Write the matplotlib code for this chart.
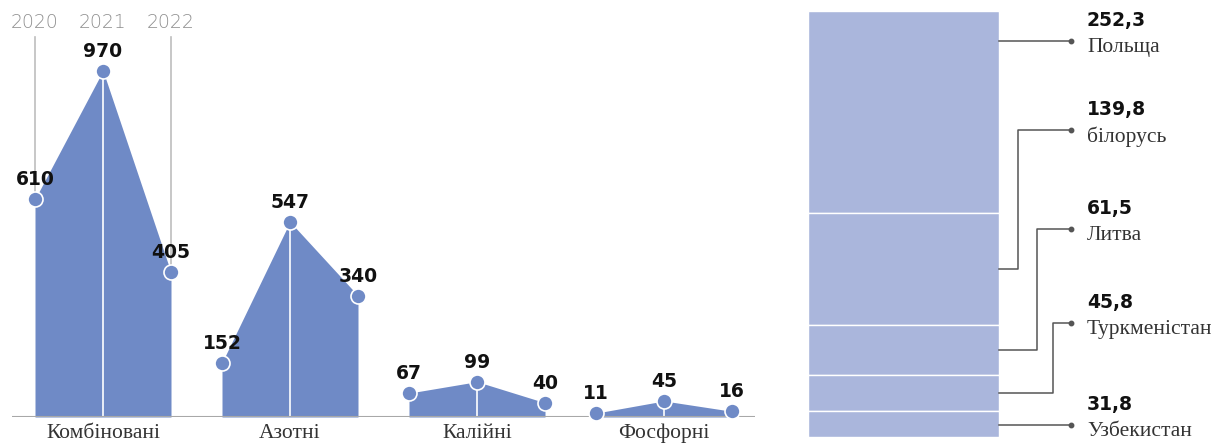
import matplotlib
matplotlib.use("Agg")
import matplotlib.pyplot as plt
import numpy as np

# ---- data ----
categories = ["Комбіновані", "Азотні", "Калійні", "Фосфорні"]
years = ["2020", "2021", "2022"]
values = {
    "Комбіновані": [610, 970, 405],
    "Азотні": [152, 547, 340],
    "Калійні": [67, 99, 40],
    "Фосфорні": [11, 45, 16],
}
countries = ["Польща", "білорусь", "Литва", "Туркменістан", "Узбекистан"]
country_values = [252.3, 139.8, 61.5, 45.8, 31.8]
country_labels = ["252,3", "139,8", "61,5", "45,8", "31,8"]

# ---- style ----
W, H = 1214, 444
FILL = "#6F8AC6"
BAR = "#AAB6DC"
GRAY = "#A8A8A8"
TXT = "#111111"
SERIF = ["Liberation Serif", "DejaVu Serif"]
BOLD = ["DejaVu Sans"]

fig = plt.figure(figsize=(W / 100, H / 100), dpi=100)
fig.patch.set_facecolor("white")

# ---------- left chart ----------
scale = 0.357  # px per unit
ax = fig.add_axes([12 / W, (H - 417) / H, 743 / W, 417 / H])
gap = 2.75
ax.set_xlim(-23 / 68, 720 / 68)
ax.set_ylim(0, 417 / scale)
ax.axis("off")

for i, cat in enumerate(categories):
    xs = np.arange(3) + i * gap
    vals = values[cat]
    ax.fill_between(xs, 0, vals, color=FILL, lw=0, zorder=1)
    # white line for middle year
    ax.plot([xs[1], xs[1]], [0, vals[1]], color="white", lw=1.2, zorder=2)
    ax.plot(xs, vals, "o", ms=10.8, color=FILL, mec="white", mew=1.2, zorder=4, clip_on=False)
    for x, v in zip(xs, vals):
        ax.annotate(str(v), (x, v), xytext=(0, 14), textcoords="offset points",
                    ha="center", va="center", fontsize=13.5, fontweight="bold",
                    family=BOLD, color=TXT, zorder=5)
    ax.annotate(cat, (xs[1], 0), xytext=(0, -12), textcoords="offset points",
                ha="center", va="center", fontsize=15.5, family=SERIF, color="#333333",
                annotation_clip=False)
    if i == 0:
        ytop = (417 - 37) / scale
        ylab = (417 - 23) / scale
        for j, (x, y) in enumerate(zip(xs, years)):
            ax.text(x, ylab, y, ha="center", va="center", fontsize=13.5,
                    color="#8f8f8f", family=["DejaVu Sans"], fontweight="light")
            if j != 1:
                ax.plot([x, x], [vals[j], ytop], color="#BDBDBD", lw=1.2, zorder=0)

ax.axhline(0, color=GRAY, lw=1.5, zorder=3)

# ---------- right chart ----------
pxu = 0.802  # px per unit
total = sum(country_values)
barw = 191
ax2 = fig.add_axes([808 / W, (H - 437) / H, 406 / W, (437 - 11) / H])
ax2.set_xlim(0, 406 / barw)
ax2.set_ylim(total, 0)
ax2.axis("off")

bottoms = np.concatenate([[0], np.cumsum(country_values)[:-1]])
ax2.bar(np.full(len(country_values), 0.5), country_values, width=1.0, bottom=bottoms,
        color=BAR, edgecolor="white", lw=1.0, zorder=1)

# label anchor rows (pixel layout converted to value units)
label_px = [41, 130, 229, 323, 425]
label_y = [(p - 11) / pxu for p in label_px]
elbow_px = [None, 1018, 1037, 1053, None]
dot_x = (1071 - 808) / barw
txt_x = (1087 - 808) / barw
for k, (b, v) in enumerate(zip(bottoms, country_values)):
    mid = b + v / 2
    ly = label_y[k]
    if elbow_px[k] is None:
        ax2.plot([1.0, dot_x], [ly, ly], color="#555555", lw=1.1, zorder=2, clip_on=False)
    else:
        ex = (elbow_px[k] - 808) / barw
        ax2.plot([1.0, ex, ex, dot_x], [mid, mid, ly, ly], color="#555555", lw=1.1,
                 zorder=2, clip_on=False)
    ax2.plot([dot_x], [ly], "o", ms=3.2, color="#555555", zorder=3, clip_on=False)
    ax2.text(txt_x, ly - 20 / pxu, country_labels[k], ha="left", va="center",
             fontsize=13.5, fontweight="bold", family=BOLD, color=TXT, clip_on=False)
    ax2.text(txt_x, ly + 7 / pxu, countries[k], ha="left", va="center",
             fontsize=15.5, family=SERIF, color="#333333", clip_on=False)

fig.savefig("out.png", dpi=100, facecolor="white")
